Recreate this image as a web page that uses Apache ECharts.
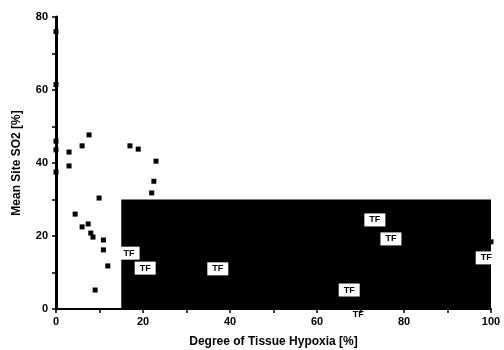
<!DOCTYPE html>
<html>
<head>
<meta charset="utf-8">
<script src="https://cdn.jsdelivr.net/npm/echarts@6/dist/echarts.min.js"></script>
<style>
  html, body { margin: 0; padding: 0; background: #fff; }
  #chart { width: 504px; height: 350px; }
</style>
</head>
<body>
<div id="chart"></div>
<script>
// black square points
var ptX = [0, 0, 0, 0, 0, 3, 3, 6, 7.6, 17, 18.9, 23, 22.5, 22, 9.9, 4.4, 6, 7.4, 8, 8.5, 10.9, 10.9, 11.9, 9, 100];
var ptY = [76, 61.5, 46, 43.6, 37.5, 43, 39.2, 44.7, 47.7, 44.7, 43.8, 40.5, 35, 31.8, 30.4, 26, 22.5, 23.3, 20.8, 19.7, 18.9, 16.2, 11.8, 5.2, 18.4];
// points labelled "TF"
var tfX = [16.8, 20.5, 37.2, 73.3, 77, 98.9, 67.4];
var tfY = [15.3, 11.2, 11, 24.4, 19.2, 14, 5.2];
// "TF" on the x axis
var tfAxisX = [69.5];
var tfAxisY = [0];
// black block
var blockFrom = [15, 0];
var blockTo = [100, 30];

var font = 'Liberation Sans';

function pairs(xs, ys) {
    var out = [];
    for (var i = 0; i < xs.length; i++) out.push([xs[i], ys[i]]);
    return out;
}

var chart = echarts.init(document.getElementById('chart'));
var option = {
    animation: false,
    grid: { left: 56, right: 13, top: 17, bottom: 41, containLabel: false, outerBoundsMode: 'none' },
    xAxis: {
        type: 'value',
        min: 0, max: 100, interval: 20,
        name: 'Degree of Tissue Hypoxia [%]',
        nameLocation: 'middle',
        nameGap: 27,
        nameTextStyle: { color: '#000', fontFamily: font, fontWeight: 'bold', fontSize: 12 },
        axisLine: { lineStyle: { color: '#000', width: 2 } },
        axisTick: { length: 4, lineStyle: { color: '#000', width: 1.5 } },
        minorTick: { show: true, splitNumber: 2, length: 4, lineStyle: { color: '#000', width: 1.5 } },
        axisLabel: { color: '#000', fontFamily: font, fontWeight: 'bold', fontSize: 11, margin: 7 },
        splitLine: { show: false }
    },
    yAxis: {
        type: 'value',
        min: 0, max: 80, interval: 20,
        name: 'Mean Site SO2 [%]',
        nameLocation: 'middle',
        nameGap: 33,
        nameTextStyle: { color: '#000', fontFamily: font, fontWeight: 'bold', fontSize: 12 },
        axisLine: { show: true, lineStyle: { color: '#000', width: 3 } },
        axisTick: { show: true, length: 4, lineStyle: { color: '#000', width: 1.5 } },
        minorTick: { show: true, splitNumber: 2, length: 4, lineStyle: { color: '#000', width: 1.5 } },
        axisLabel: { color: '#000', fontFamily: font, fontWeight: 'bold', fontSize: 11, margin: 8 },
        splitLine: { show: false }
    },
    series: [
        {
            type: 'scatter',
            data: [],
            z: 1,
            markArea: {
                silent: true,
                itemStyle: { color: '#000', opacity: 1 },
                data: [[{ coord: blockFrom }, { coord: blockTo }]]
            }
        },
        {
            type: 'scatter',
            symbol: 'rect',
            symbolSize: 5,
            clip: false,
            itemStyle: { color: '#000', opacity: 1 },
            z: 5,
            data: pairs(ptX, ptY)
        },
        {
            type: 'scatter',
            symbolSize: 0,
            clip: false,
            z: 6,
            itemStyle: { opacity: 1 },
            label: {
                show: true,
                position: 'inside',
                formatter: 'TF',
                color: '#000',
                opacity: 1,
                fontFamily: font,
                fontWeight: 'bold',
                fontSize: 9,
                backgroundColor: '#ffffff',
                padding: [2, 5]
            },
            data: pairs(tfX, tfY)
        },
        {
            type: 'scatter',
            symbolSize: 0,
            clip: false,
            z: 6,
            itemStyle: { opacity: 1 },
            label: {
                show: true,
                position: 'bottom',
                distance: 1,
                formatter: 'TF',
                color: '#000',
                opacity: 1,
                fontFamily: font,
                fontWeight: 'bold',
                fontSize: 9
            },
            data: pairs(tfAxisX, tfAxisY)
        }
    ]
};
chart.setOption(option);
</script>
</body>
</html>
